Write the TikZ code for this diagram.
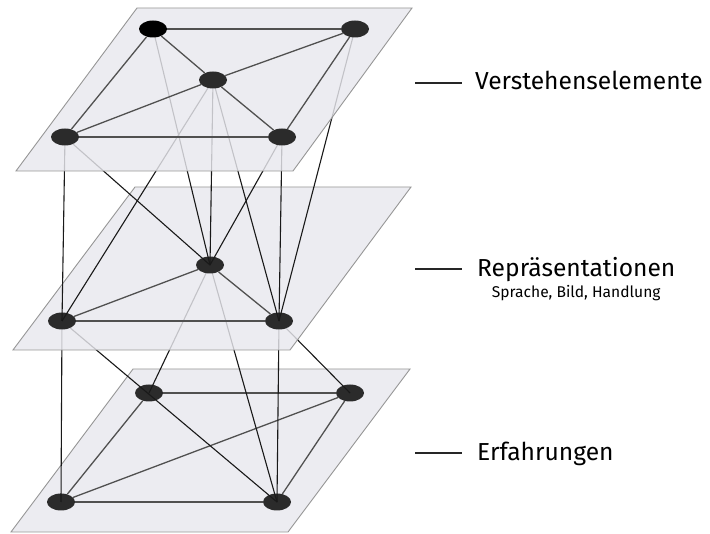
\documentclass[tikz,border=0pt]{standalone}
\usepackage{fontspec}
\setmainfont{Fira Sans}
\usepackage{tikz}
\usetikzlibrary{shapes.geometric}

\definecolor{planefill}{RGB}{232,232,238}
\definecolor{planeedge}{RGB}{150,150,150}
\definecolor{knotfill}{RGB}{43,43,43}
\definecolor{edgegray}{RGB}{80,80,80}

\pgfdeclarelayer{erflayer}
\pgfdeclarelayer{lowlinks}
\pgfdeclarelayer{replayer}
\pgfdeclarelayer{uplinks}
\pgfsetlayers{erflayer,lowlinks,replayer,uplinks,main}

\tikzset{
  plane/.style={fill=planefill, fill opacity=0.82, draw=planeedge, line width=0.9pt},
  knot/.style={ellipse, fill=knotfill, minimum width=28pt, minimum height=17pt, inner sep=0pt},
  inner/.style={edgegray, line width=1.3pt},
  link/.style={black!90, line width=1.1pt},
  legline/.style={black!85, line width=1.2pt},
  legtext/.style={anchor=base west, inner sep=0pt, font=\fontsize{24.6}{28}\selectfont},
  legsub/.style={anchor=base, inner sep=0pt, font=\fontsize{15.6}{18}\selectfont},
}

\begin{document}
\begin{tikzpicture}[x=1pt, y=-1pt]
    \useasboundingbox (0,0) rectangle (710,534);

    % Erfahrungen
    \begin{pgfonlayer}{erflayer}
    \draw[plane] (133,369) -- (410,369) -- (288,532) -- (11,532) -- cycle;
    \node[knot] (bTL) at (149,393) {};
    \node[knot] (bTR) at (350,393) {};
    \node[knot] (bBL) at (61,502) {};
    \node[knot] (bBR) at (277,502) {};
    \foreach \a/\b in {bTL/bTR, bTL/bBL, bTR/bBL, bTR/bBR, bBL/bBR}
        \draw[inner] (\a) -- (\b);
    \end{pgfonlayer}

    % Repraesentationen
    \begin{pgfonlayer}{replayer}
    \draw[plane] (135,187) -- (411,187) -- (290,350) -- (13,350) -- cycle;
    \node[knot] (mC) at (210,265) {};
    \node[knot] (mBL) at (62,321) {};
    \node[knot] (mBR) at (279,321) {};
    \foreach \a/\b in {mC/mBL, mC/mBR, mBL/mBR}
        \draw[inner] (\a) -- (\b);
    \end{pgfonlayer}

    % Verstehenselemente
    \draw[plane] (137,8) -- (412,8) -- (293,171) -- (16,171) -- cycle;
    \node[knot, fill=black] (tTL) at (153,29) {};
    \node[knot] (tTR) at (355,29) {};
    \node[knot] (tC) at (213,80) {};
    \node[knot] (tBL) at (65,137) {};
    \node[knot] (tBR) at (282,137) {};
    \foreach \a/\b in {tTL/tTR, tTL/tC, tTL/tBL, tTR/tC, tTR/tBR, tC/tBL, tC/tBR, tBL/tBR}
        \draw[inner] (\a) -- (\b);

    % links between the planes
    \begin{pgfonlayer}{lowlinks}
    \foreach \a/\b in {mBL/bBL, mBL/bBR, mC/bTL, mC/bBR, mBR/bBR, mBR/bTR}
        \draw[link] (\a.center) -- (\b.center);
    \end{pgfonlayer}
    \begin{pgfonlayer}{uplinks}
    \foreach \a/\b in {tTL/mC, tC/mBL, tC/mC, tC/mBR, tBL/mBL, tBL/mC, tBR/mC, tBR/mBR, tTR/mBR}
        \draw[link] (\a.center) -- (\b.center);
    \end{pgfonlayer}

    % labels
    \coordinate (v0) at (415,83);  \coordinate (v1) at (462,83);
    \coordinate (r0) at (415,269); \coordinate (r1) at (462,269);
    \coordinate (e0) at (415,453); \coordinate (e1) at (462,453);
    \draw[legline] (v0) -- (v1);
    \draw[legline] (r0) -- (r1);
    \draw[legline] (e0) -- (e1);
    \node[legtext] (verst) at (475,90) {Verstehenselemente};
    \node[legtext] (repr) at (477,277) {Repräsentationen};
    \node[legsub] (reprsub) at (repr.base |- 0,298) {Sprache, Bild, Handlung};
    \node[legtext] (erf) at (477,461) {Erfahrungen};
\end{tikzpicture}
\end{document}
